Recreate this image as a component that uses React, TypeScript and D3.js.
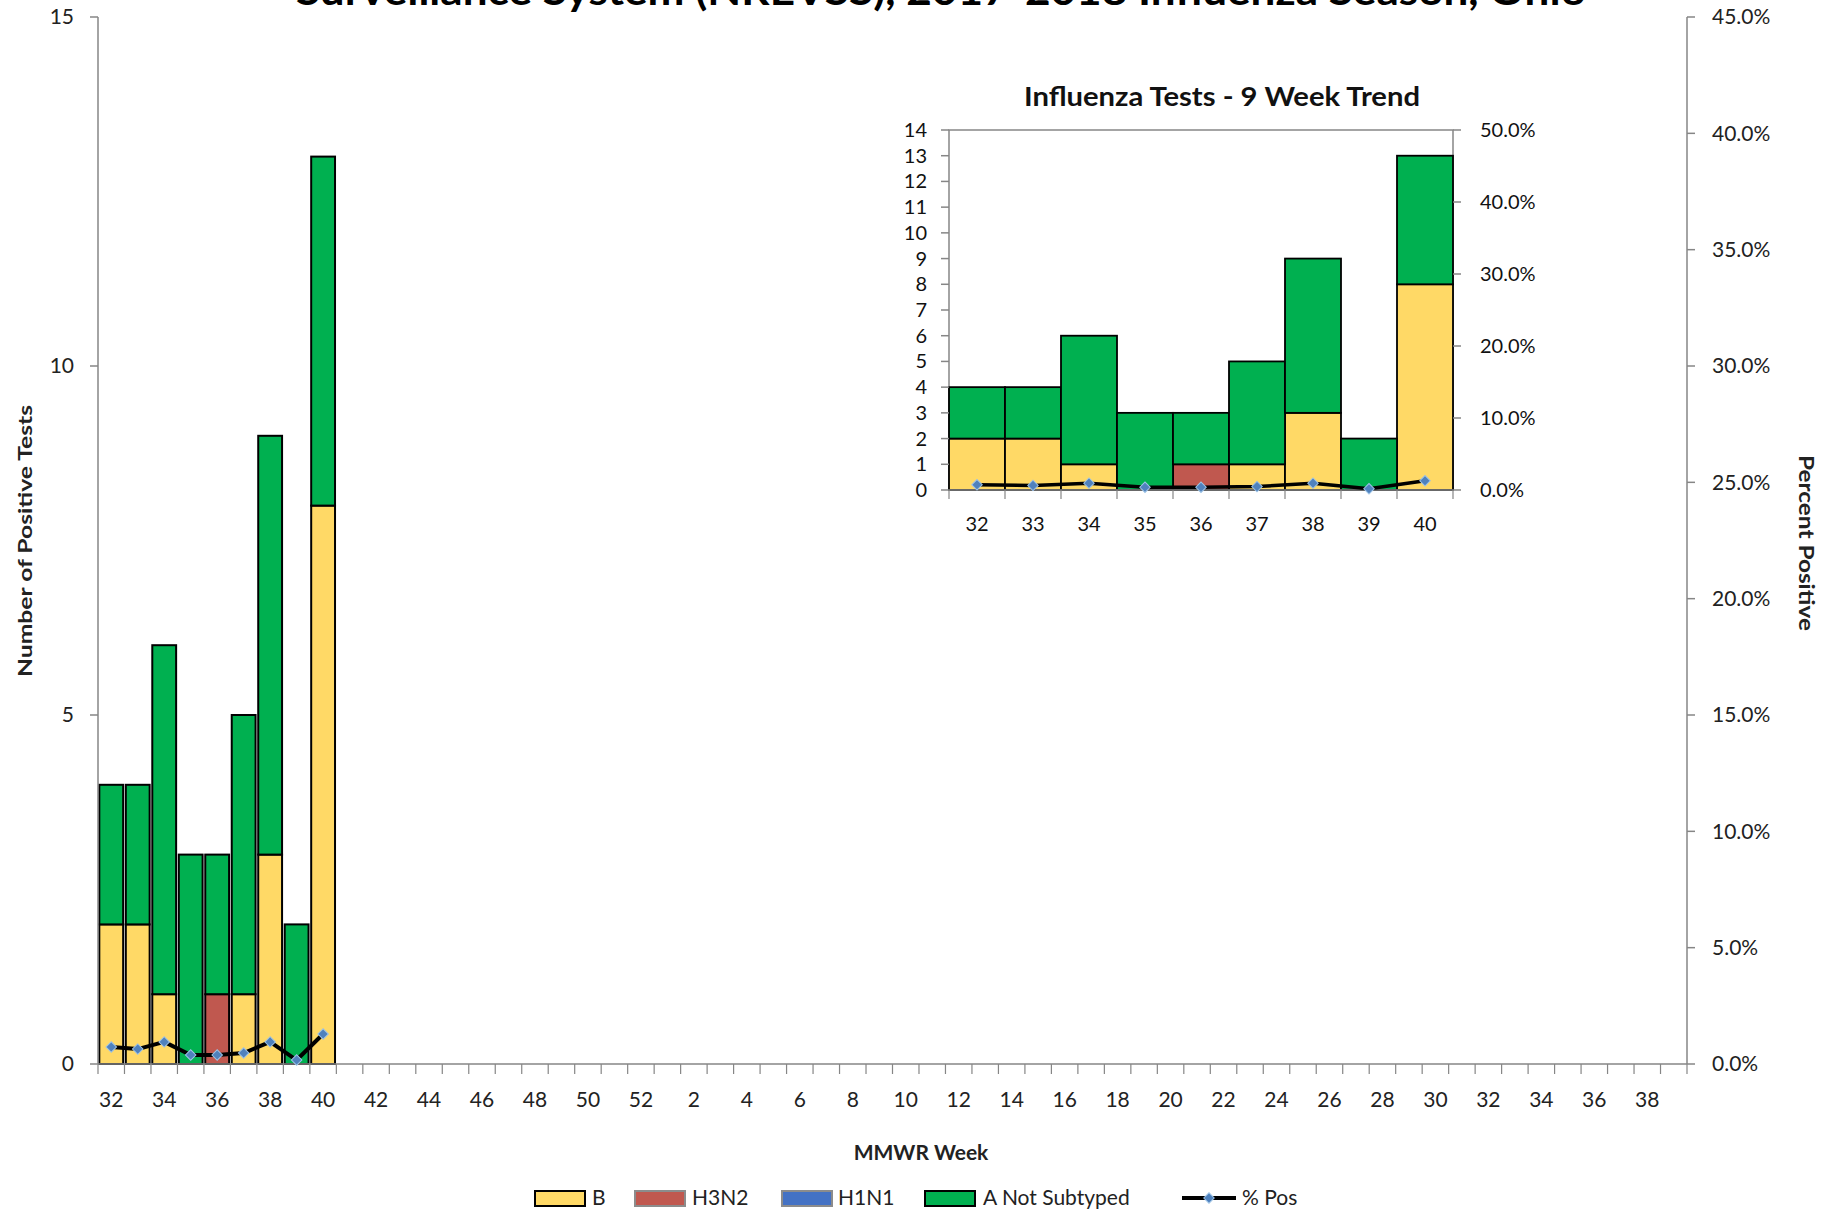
import React from 'react';
import * as d3 from 'd3';

// full season axis: MMWR weeks 32..52 then 1..39
const seasonWeeks = [
  '32', '33', '34', '35', '36', '37', '38', '39', '40', '41', '42', '43', '44', '45', '46', '47', '48', '49', '50', '51', '52',
  '1', '2', '3', '4', '5', '6', '7', '8', '9', '10', '11', '12', '13', '14', '15', '16', '17', '18', '19', '20',
  '21', '22', '23', '24', '25', '26', '27', '28', '29', '30', '31', '32b', '33b', '34b', '35b', '36b', '37b', '38b', '39b',
];
const trendWeeks = ['32', '33', '34', '35', '36', '37', '38', '39', '40'];
const fluB = [2, 2, 1, 0, 0, 1, 3, 0, 8];
const fluH3N2 = [0, 0, 0, 0, 1, 0, 0, 0, 0];
const fluH1N1 = [0, 0, 0, 0, 0, 0, 0, 0, 0];
const fluANotSubtyped = [2, 2, 5, 3, 2, 4, 6, 2, 5];
const pctPositive = [0.73, 0.64, 0.95, 0.39, 0.39, 0.47, 0.95, 0.17, 1.29];

const mainCountTicks = [0, 5, 10, 15];
const mainPctTicks = [0, 5, 10, 15, 20, 25, 30, 35, 40, 45];
const insetCountTicks = [0, 1, 2, 3, 4, 5, 6, 7, 8, 9, 10, 11, 12, 13, 14];
const insetPctTicks = [0, 10, 20, 30, 40, 50];

const seriesKeys = ['B', 'H3N2', 'H1N1', 'A Not Subtyped'];
const seriesColors: Record<string, string> = {
  B: '#FFD966',
  H3N2: '#C0584F',
  H1N1: '#4472C4',
  'A Not Subtyped': '#00B050',
};
const legendBorders: Record<string, string> = {
  B: '#000',
  H3N2: '#8c8c8c',
  H1N1: '#8c8c8c',
  'A Not Subtyped': '#000',
};

const rows = trendWeeks.map((week, i) => ({
  week,
  B: fluB[i],
  H3N2: fluH3N2[i],
  H1N1: fluH1N1[i],
  'A Not Subtyped': fluANotSubtyped[i],
}));
const stacked = d3.stack<any>().keys(seriesKeys)(rows);

const FONT = 'Lato, "Open Sans", sans-serif';
const AXIS = '#868686';

const main = { left: 98, right: 1687, top: 17, bottom: 1064 };
const inset = { left: 949, right: 1453, top: 130, bottom: 490 };

const xMain = d3.scaleBand().domain(seasonWeeks).range([main.left, main.right]);
const xMainBar = d3.scaleBand().domain(seasonWeeks).range([main.left, main.right])
  .paddingInner(0.1).paddingOuter(0.05);
const yMain = d3.scaleLinear().domain([0, 15]).range([main.bottom, main.top]);
const yMainPct = d3.scaleLinear().domain([0, 45]).range([main.bottom, main.top]);

const xInset = d3.scaleBand().domain(trendWeeks).range([inset.left, inset.right]);
const yInset = d3.scaleLinear().domain([0, 14]).range([inset.bottom, inset.top]);
const yInsetPct = d3.scaleLinear().domain([0, 50]).range([inset.bottom, inset.top]);

const diamond = d3.symbol(d3.symbolSquare, 55)();

function weekLabel(w: string) {
  return w.replace('b', '');
}

function Markers({ xs, ys }: { xs: (w: string) => number; ys: (v: number) => number }) {
  return (
    <g>
      {trendWeeks.map((w, i) => (
        <path key={w} d={diamond!}
          transform={`translate(${xs(w)},${ys(pctPositive[i])}) rotate(45)`}
          fill="#4F81BD" stroke="#9DC3E6" strokeWidth={1} />
      ))}
    </g>
  );
}

export default function App() {
  const mainLine = d3.line<number>()
    .x((d, i) => xMain(trendWeeks[i])! + xMain.bandwidth() / 2)
    .y(d => yMainPct(d));
  const insetLine = d3.line<number>()
    .x((d, i) => xInset(trendWeeks[i])! + xInset.bandwidth() / 2)
    .y(d => yInsetPct(d));

  const mainBounds = [...seasonWeeks.map(w => xMain(w)!), main.right];
  const insetBounds = [...trendWeeks.map(w => xInset(w)!), inset.right];

  const legendItems = [
    { key: 'B', x: 535, tx: 592 },
    { key: 'H3N2', x: 635, tx: 692 },
    { key: 'H1N1', x: 782, tx: 838 },
    { key: 'A Not Subtyped', x: 925, tx: 983 },
  ];

  return (
    <svg width={1824} height={1211} style={{ position: 'absolute', left: 0, top: 0, background: '#fff' }}
      fontFamily={FONT}>
      <rect x={0} y={0} width={1824} height={1211} fill="#fff" />

      {/* title (cut off at the top, as in the source image) */}
      <text x={941} y={5} textAnchor="middle" fontSize={40} fontWeight="bold" fill="#000"
        textLength={1290} lengthAdjust="spacingAndGlyphs">
        Surveillance System (NREVSS), 2017-2018 Influenza Season, Ohio
      </text>

      {/* main bars */}
      {stacked.map(s => (
        <g key={s.key} fill={seriesColors[s.key]}>
          {s.map((d, i) => d[1] - d[0] > 0 ? (
            <rect key={i} x={xMainBar(trendWeeks[i])} width={xMainBar.bandwidth()}
              y={yMain(d[1])} height={yMain(d[0]) - yMain(d[1])}
              stroke="#000" strokeWidth={2} />
          ) : null)}
        </g>
      ))}

      {/* main axes */}
      <line x1={main.left} x2={main.left} y1={main.top} y2={main.bottom} stroke={AXIS} strokeWidth={1.5} />
      <line x1={main.right} x2={main.right} y1={main.top} y2={main.bottom} stroke={AXIS} strokeWidth={1.5} />
      <line x1={main.left} x2={main.right} y1={main.bottom} y2={main.bottom} stroke={AXIS} strokeWidth={1.5} />
      {mainCountTicks.map(t => (
        <g key={t}>
          <line x1={main.left - 8} x2={main.left} y1={yMain(t)} y2={yMain(t)} stroke={AXIS} strokeWidth={1.5} />
          <text x={74} y={yMain(t)} dy="0.35em" textAnchor="end" fontSize={21} fill="#222">{t}</text>
        </g>
      ))}
      {mainPctTicks.map(t => (
        <g key={t}>
          <line x1={main.right} x2={main.right + 8} y1={yMainPct(t)} y2={yMainPct(t)} stroke={AXIS} strokeWidth={1.5} />
          <text x={1712} y={yMainPct(t)} dy="0.35em" fontSize={21} fill="#222">{t.toFixed(1)}%</text>
        </g>
      ))}
      {mainBounds.map((bx, i) => (
        <line key={i} x1={bx} x2={bx} y1={main.bottom} y2={main.bottom + 10} stroke={AXIS} strokeWidth={1.2} />
      ))}
      {seasonWeeks.map((w, i) => i % 2 === 0 ? (
        <text key={w} x={xMain(w)! + xMain.bandwidth() / 2} y={1100} dy="0.35em" textAnchor="middle"
          fontSize={21} fill="#222">{weekLabel(w)}</text>
      ) : null)}

      {/* main % positive line */}
      <path d={mainLine(pctPositive)!} fill="none" stroke="#000" strokeWidth={4} strokeLinejoin="round" />
      <Markers xs={w => xMain(w)! + xMain.bandwidth() / 2} ys={yMainPct} />

      <text transform="translate(25,541) rotate(-90)" textAnchor="middle" dy="0.35em" fontSize={19}
        fontWeight="bold" fill="#222" textLength={272} lengthAdjust="spacingAndGlyphs">Number of Positive Tests</text>
      <text transform="translate(1806,543) rotate(90)" textAnchor="middle" dy="0.35em" fontSize={20}
        fontWeight="bold" fill="#222" textLength={176} lengthAdjust="spacingAndGlyphs">Percent Positive</text>
      <text x={921} y={1153} dy="0.35em" textAnchor="middle" fontSize={21} fontWeight="bold" fill="#222">MMWR Week</text>

      {/* inset chart */}
      <text x={1222} y={97} dy="0.35em" textAnchor="middle" fontSize={27} fontWeight="bold" fill="#111"
        textLength={396} lengthAdjust="spacingAndGlyphs">Influenza Tests - 9 Week Trend</text>
      <rect x={inset.left} y={inset.top} width={inset.right - inset.left} height={inset.bottom - inset.top}
        fill="#fff" stroke={AXIS} strokeWidth={1.5} />
      {stacked.map(s => (
        <g key={s.key} fill={seriesColors[s.key]}>
          {s.map((d, i) => d[1] - d[0] > 0 ? (
            <rect key={i} x={xInset(trendWeeks[i])} width={xInset.bandwidth()}
              y={yInset(d[1])} height={yInset(d[0]) - yInset(d[1])}
              stroke="#000" strokeWidth={1.8} />
          ) : null)}
        </g>
      ))}
      {insetCountTicks.map(t => (
        <g key={t}>
          <line x1={inset.left - 8} x2={inset.left} y1={yInset(t)} y2={yInset(t)} stroke={AXIS} strokeWidth={1.5} />
          <text x={927} y={yInset(t)} dy="0.35em" textAnchor="end" fontSize={20} fill="#111">{t}</text>
        </g>
      ))}
      {insetPctTicks.map(t => (
        <g key={t}>
          <line x1={inset.right} x2={inset.right + 8} y1={yInsetPct(t)} y2={yInsetPct(t)} stroke={AXIS} strokeWidth={1.5} />
          <text x={1480} y={yInsetPct(t)} dy="0.35em" fontSize={20} fill="#111">{t.toFixed(1)}%</text>
        </g>
      ))}
      <line x1={inset.left} x2={inset.right} y1={inset.bottom} y2={inset.bottom} stroke={AXIS} strokeWidth={1.5} />
      {insetBounds.map((bx, i) => (
        <line key={i} x1={bx} x2={bx} y1={inset.bottom} y2={inset.bottom + 9} stroke={AXIS} strokeWidth={1.2} />
      ))}
      {trendWeeks.map(w => (
        <text key={w} x={xInset(w)! + xInset.bandwidth() / 2} y={524} dy="0.35em" textAnchor="middle"
          fontSize={20} fill="#111">{w}</text>
      ))}
      <path d={insetLine(pctPositive)!} fill="none" stroke="#000" strokeWidth={3.5} strokeLinejoin="round" />
      <Markers xs={w => xInset(w)! + xInset.bandwidth() / 2} ys={yInsetPct} />

      {/* legend */}
      {legendItems.map(it => (
        <g key={it.key}>
          <rect x={it.x} y={1191} width={50} height={15} fill={seriesColors[it.key]}
            stroke={legendBorders[it.key]} strokeWidth={2} />
          <text x={it.tx} y={1198} dy="0.35em" fontSize={21} fill="#222">{it.key}</text>
        </g>
      ))}
      <line x1={1182} x2={1236} y1={1198} y2={1198} stroke="#000" strokeWidth={4} />
      <path d={diamond!} transform="translate(1209,1198) rotate(45)" fill="#4F81BD" stroke="#9DC3E6" strokeWidth={1} />
      <text x={1242} y={1198} dy="0.35em" fontSize={21} fill="#222">% Pos</text>
    </svg>
  );
}
